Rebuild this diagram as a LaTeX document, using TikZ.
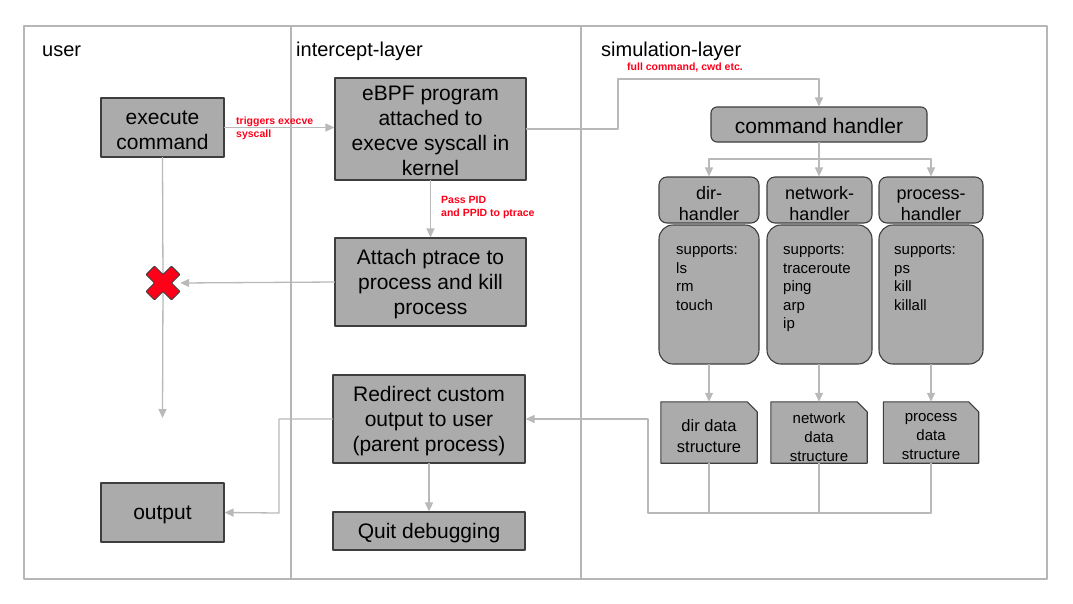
\documentclass[tikz,border=0pt]{standalone}
\usepackage{fontspec}
\setmainfont{Liberation Sans}
\usetikzlibrary{arrows.meta}
\definecolor{boxfill}{RGB}{171,171,171}
\definecolor{boxline}{RGB}{62,62,62}
\definecolor{conn}{RGB}{185,185,185}
\definecolor{lane}{RGB}{182,182,182}
\definecolor{note}{RGB}{255,0,25}
\newcommand{\boxlift}[1][19pt]{\rule{0pt}{#1}}

\begin{document}
\begin{tikzpicture}[line cap=round,line join=round,>={Triangle[length=9pt,width=8pt]},x=1pt,y=-1pt,
	box/.style={draw=boxline,fill=boxfill,line width=1.1pt,align=center,inner sep=0pt,font=\fontsize{21}{25}\selectfont},
	hbox/.style={box,rounded corners=8pt,minimum width=#1,minimum height=46pt,font=\fontsize{18}{21}\selectfont},
	body/.style={box,rounded corners=14pt,minimum width=#1,minimum height=139pt},
	dbox/.style={inner sep=0pt,minimum width=96pt,minimum height=61pt},
	dtext/.style={align=center,inner sep=0pt,font=\fontsize{15}{19}\selectfont},
	list/.style={anchor=north west,align=left,inner sep=0pt,font=\fontsize{15}{18.5}\selectfont},
	wire/.style={draw=conn,line width=1.3pt},
	tag/.style={text=note,align=left,inner sep=0pt,anchor=west,font=\bfseries\fontsize{10.5}{13}\selectfont}]%拦截流程
	\useasboundingbox (0,0) rectangle (1073,603);
	\draw [lane,line width=1.2pt] (24,26) rectangle (291,579);
	\draw [lane,line width=1.2pt] (291,26) rectangle (581,579);
	\draw [lane,line width=1.2pt] (581,26) rectangle (1047,579);
	\node [anchor=west,inner sep=0pt,font=\fontsize{20}{24}\selectfont] (tuser) at (42,51) {user};
	\node [anchor=west,inner sep=0pt,font=\fontsize{20}{24}\selectfont] (tinter) at (296,51) {intercept-layer};
	\node [anchor=west,inner sep=0pt,font=\fontsize{20}{24}\selectfont] (tsim) at (601,51) {simulation-layer};
	% user
	\node [box,minimum width=123pt,minimum height=59pt] (exec) at (162.5,127.5) {\boxlift execute\\command};
	\node [box,minimum width=123pt,minimum height=59pt] (output) at (162.5,512.5) {\boxlift output};
	\node [minimum size=34pt,inner sep=0pt] (kill) at (163,283) {};
	\coordinate (lost) at (162.5,418);
	% intercept
	\node [box,minimum width=191pt,minimum height=102pt] (ebpf) at (430.5,129) {\boxlift eBPF program\\attached to\\execve syscall in\\kernel};
	\node [box,minimum width=191pt,minimum height=88pt] (ptrace) at (430.5,282) {\boxlift Attach ptrace to\\process and kill\\process};
	\node [box,minimum width=192pt,minimum height=88pt] (redirect) at (429,419) {\boxlift Redirect custom\\output to user\\(parent process)};
	\node [box,minimum width=192pt,minimum height=38pt] (quit) at (429,531) {\boxlift Quit debugging};
	% simulation
	\node [box,rounded corners=6pt,minimum width=216pt,minimum height=35pt] (cmdh) at (819,124.5) {\boxlift command handler};
	\node [hbox=100pt] (dirh) at (709,200) {\boxlift[20pt]dir-\\handler};
	\node [hbox=105pt] (neth) at (819.5,200) {\boxlift[20pt]network-\\handler};
	\node [hbox=104pt] (proch) at (931,200) {\boxlift[20pt]process-\\handler};
	\node [body=100pt] (dirb) at (709,294.5) {};
	\node [body=105pt] (netb) at (819.5,294.5) {};
	\node [body=104pt] (procb) at (931,294.5) {};
	\node [list] (dirl) at (676,245) {supports:\\ls\\rm\\touch};
	\node [list] (netl) at (783,245) {supports:\\traceroute\\ping\\arp\\ip};
	\node [list] (procl) at (894,245) {supports:\\ps\\kill\\killall};
	\node [dbox] (dird) at (709,432.5) {};
	\node [dbox] (netd) at (819,432.5) {};
	\node [dbox,minimum width=95pt] (procd) at (931,432.5) {};
	\foreach \d in {dird,netd,procd}
		\draw [draw=boxline,fill=boxfill,line width=1.1pt] (\d.south west) -- (\d.north west) -- ([xshift=-10pt]\d.north east) -- ([yshift=-10pt]\d.north east) -- (\d.south east) -- cycle;
	\node [dtext,font=\fontsize{16.5}{21}\selectfont] (dirt) at (709,436.5) {dir data\\structure};
	\node [dtext] (nett) at (819,437) {network\\data\\structure};
	\node [dtext] (proct) at (931,437) {process\\data\\structure};
	\coordinate (bendA) at (618,79);
	\coordinate (fan) at (819,159);
	\coordinate (gather) at (648,513);
	\coordinate (bendB) at (279,513);
	% connectors
	\draw [wire,->] (exec.east) -- (exec.east -| ebpf.west);
	\node [tag] (ttrig) at (236,128) {triggers execve\\syscall};
	\draw [wire,->] (ebpf.south) -- (ptrace.north);
	\node [tag] (tpass) at (441,207.5) {Pass PID\\and PPID to ptrace};
	\draw [wire,->] (ebpf.east) -| (bendA) -| (cmdh.north);
	\node [tag,anchor=center] (tfull) at (685,68) {full command, cwd etc.};
	\draw [wire] (exec.south) -- (kill.center);
	\draw [wire,->] (kill.center) -- (lost);
	\draw [wire,->] (ptrace.west) -- (kill.east);
	\draw [wire] (cmdh.south) -- (fan);
	\draw [wire,->] (fan) -| (dirh.north);
	\draw [wire,->] (fan) -- (neth.north -| fan);
	\draw [wire,->] (fan) -| (proch.north);
	\draw [wire,->] (dirb.south) -- (dird.north);
	\draw [wire,->] (netb.south -| netd.north) -- (netd.north);
	\draw [wire,->] (procb.south) -- (procd.north);
	\draw [wire] (dird.south) -- (dird.south |- gather);
	\draw [wire] (netd.south) -- (netd.south |- gather);
	\draw [wire,->] (procd.south) |- (gather) |- (redirect.east);
	\draw [wire,->] (redirect.west) -| (bendB) -- (output.east);
	\draw [wire,->] (redirect.south) -- (quit.north);
	% cross
	\begin{scope}[shift={(kill.center)},rotate=45]
		\draw [fill=note,draw=boxline,line width=1pt,rounded corners=1pt] (6,18) -- (6,6) -- (18,6) -- (18,-6) -- (6,-6) -- (6,-18) -- (-6,-18) -- (-6,-6) -- (-18,-6) -- (-18,6) -- (-6,6) -- (-6,18) -- cycle;
	\end{scope}
\end{tikzpicture}
\end{document}
